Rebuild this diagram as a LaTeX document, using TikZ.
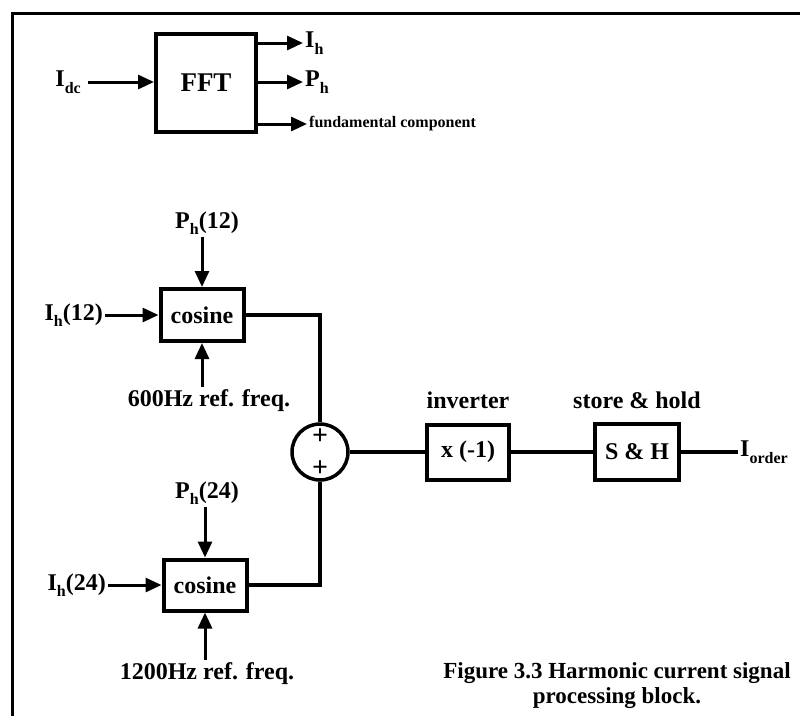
\documentclass[tikz,border=0pt]{standalone}
\usepackage{fontspec}
\setmainfont{Liberation Serif}
\usetikzlibrary{arrows.meta}

\newcommand{\lowsub}[1]{\raisebox{-0.6ex}{\fontsize{16}{16}\selectfont #1}}

\tikzset{
  block/.style={draw, line width=4pt, inner sep=0pt},
  sig/.style={line width=3pt, -{Triangle[length=16pt,width=14pt]}},
  wire/.style={line width=3.6pt},
  lbl/.style={inner sep=2pt}
}

\begin{document}
\begin{tikzpicture}[x=1pt, y=-1pt, every node/.style={font=\fontsize{24}{28}\selectfont\bfseries}]
    \useasboundingbox (0,0) rectangle (800,716);
    \draw[line width=3pt] (12,716) -- (12,13) -- (800,13);

    % FFT stage
    \node[block, minimum width=100pt, minimum height=98pt, font=\fontsize{27}{30}\selectfont\bfseries] (fft) at (206,82.5) {FFT};
    \node[lbl, anchor=east, inner xsep=7pt] (idc) at (88,82) {I\lowsub{dc}};
    \node[lbl, anchor=west] (ih) at (303,43) {I\lowsub{h}};
    \node[lbl, anchor=west] (ph) at (303,82) {P\lowsub{h}};
    \node[lbl, anchor=west, font=\fontsize{16}{18}\selectfont\bfseries] (fund) at (307,124) {fundamental component};
    \draw[sig] (idc.east) -- (idc.east -| fft.west);
    \foreach \n in {ih,ph,fund} \draw[sig] (fft.east |- \n.west) -- (\n.west);

    % 12th harmonic
    \node[block, minimum width=83pt, minimum height=52pt] (cos1) at (202,315) {cosine};
    \node[lbl, anchor=south] (ph12) at (207,237) {P\lowsub{h}(12)};
    \node[lbl, anchor=east] (ih12) at (105,315) {I\lowsub{h}(12)};
    \node[lbl, anchor=north] (f600) at (209,387) {600Hz ref. freq.};
    \draw[sig] (cos1.north |- ph12.south) -- (cos1.north);
    \draw[sig] (ih12.east) -- (ih12.east -| cos1.west);
    \draw[sig] (cos1.south |- f600.north) -- (cos1.south);

    % 24th harmonic
    \node[block, minimum width=83pt, minimum height=51pt] (cos2) at (205,585) {cosine};
    \node[lbl, anchor=south] (ph24) at (207,507) {P\lowsub{h}(24)};
    \node[lbl, anchor=east] (ih24) at (108,585) {I\lowsub{h}(24)};
    \node[lbl, anchor=north] (f1200) at (207,660) {1200Hz ref. freq.};
    \draw[sig] (cos2.north |- ph24.south) -- (cos2.north);
    \draw[sig] (ih24.east) -- (ih24.east -| cos2.west);
    \draw[sig] (cos2.south |- f1200.north) -- (cos2.south);

    % summing junction
    \node[draw, circle, line width=3.5pt, minimum size=56pt, inner sep=0pt] (sum) at (320,452) {};
    \node[font=\fontsize{28}{28}\selectfont\bfseries] (plusa) at (320,437) {+};
    \node[font=\fontsize{28}{28}\selectfont\bfseries] (plusb) at (320,469) {+};
    \draw[wire] (cos1.east) -| (sum.north);
    \draw[wire] (cos2.east) -| (sum.south);

    % inverter and store & hold
    \node[block, minimum width=82pt, minimum height=55pt] (inv) at (468,452) {x (-1)};
    \node[block, minimum width=84pt, minimum height=56pt] (sh) at (637,452) {S \& H};
    \node[anchor=base] (invlbl) at (468,408) {inverter};
    \node[anchor=base] (shlbl) at (637,408) {store \& hold};
    \node[lbl, anchor=west] (iorder) at (738,452) {I\lowsub{order}};
    \draw[wire] (sum) -- (inv);
    \draw[wire] (inv) -- (sh);
    \draw[wire] (sh) -- (iorder);

    \node[align=center, font=\fontsize{23}{25}\selectfont\bfseries] (caption) at (617,686) {Figure 3.3 Harmonic current signal\\ processing block.};
\end{tikzpicture}
\end{document}
